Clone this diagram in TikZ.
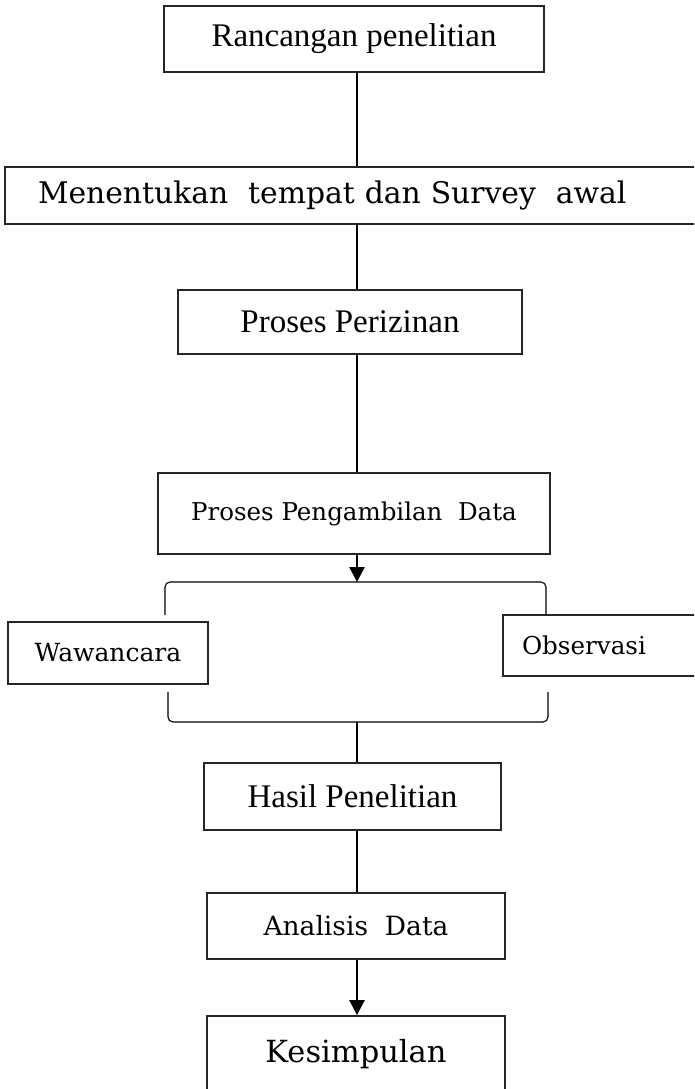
\documentclass[tikz,border=0pt]{standalone}
\usepackage{fontspec}
\setmainfont{Liberation Serif}
\newfontfamily\slab{DejaVu Serif}
\usetikzlibrary{arrows.meta}
\tikzset{
  box/.style={draw=black!85, line width=1.8pt, rectangle, inner sep=0pt, fill=white},
  conn/.style={line width=2.5pt, black},
  arr/.style={conn, -{Triangle[width=15pt,length=15pt]}},
  brk/.style={line width=1.1pt, black, rounded corners=5pt},
  pal/.style={font=\fontsize{33}{37}\selectfont},
}
\begin{document}
\begin{tikzpicture}[x=1pt,y=-1pt]
\clip (0,0) rectangle (694,1089);
\fill[white] (0,0) rectangle (694,1089);
\coordinate (spine) at (357,0);

\node[box, pal, minimum width=380, minimum height=66] (b1) at (354,39) {Rancangan penelitian};
\node[box, font=\slab\fontsize{29.8}{33}\selectfont, minimum width=699, minimum height=57,
      text width=633pt, align=left] (b2) at (354.5,195.5) {Menentukan\ \ tempat dan Survey\ \ awal};
\node[box, pal, minimum width=344, minimum height=64] (b3) at (350,322) {Proses Perizinan};
\node[box, font=\slab\fontsize{24.5}{28}\selectfont, minimum width=392, minimum height=81] (b4) at (354,513.5) {Proses Pengambilan\ \ Data};

\node[box, font=\slab\fontsize{25}{29}\selectfont, minimum width=200, minimum height=62] (w) at (108,653) {Wawancara};
\node[box, font=\slab\fontsize{24.6}{28}\selectfont, minimum width=207, minimum height=61,
      text width=169pt, align=left] (o) at (606.5,645.5) {Observasi};

\node[box, pal, minimum width=297, minimum height=67] (h) at (352.5,796.5) {Hasil Penelitian};
\node[box, font=\slab\fontsize{26.5}{30}\selectfont, minimum width=298, minimum height=66] (a) at (356,926) {Analisis\ \ Data};
\node[box, font=\slab\fontsize{30.5}{34}\selectfont, minimum width=298, minimum height=85,
      text height=22pt, text depth=15pt] (k) at (356,1058.5) {Kesimpulan};

\coordinate (brtop) at (357,582);
\coordinate (brbot) at (357,722);

\draw[brk] (165,615) -- (165,582) -- (546,582) -- (546,615);
\draw[brk] (168,692) -- (168,722) -- (548,722) -- (548,692);

\draw[conn] (b1.south -| spine) -- (b2.north -| spine);
\draw[conn] (b2.south -| spine) -- (b3.north -| spine);
\draw[conn] (b3.south -| spine) -- (b4.north -| spine);
\draw[arr] (b4.south -| spine) -- (brtop);
\draw[conn] (brbot) -- (h.north -| spine);
\draw[conn] (h.south -| spine) -- (a.north -| spine);
\draw[arr] (a.south -| spine) -- (k.north -| spine);
\end{tikzpicture}
\end{document}
